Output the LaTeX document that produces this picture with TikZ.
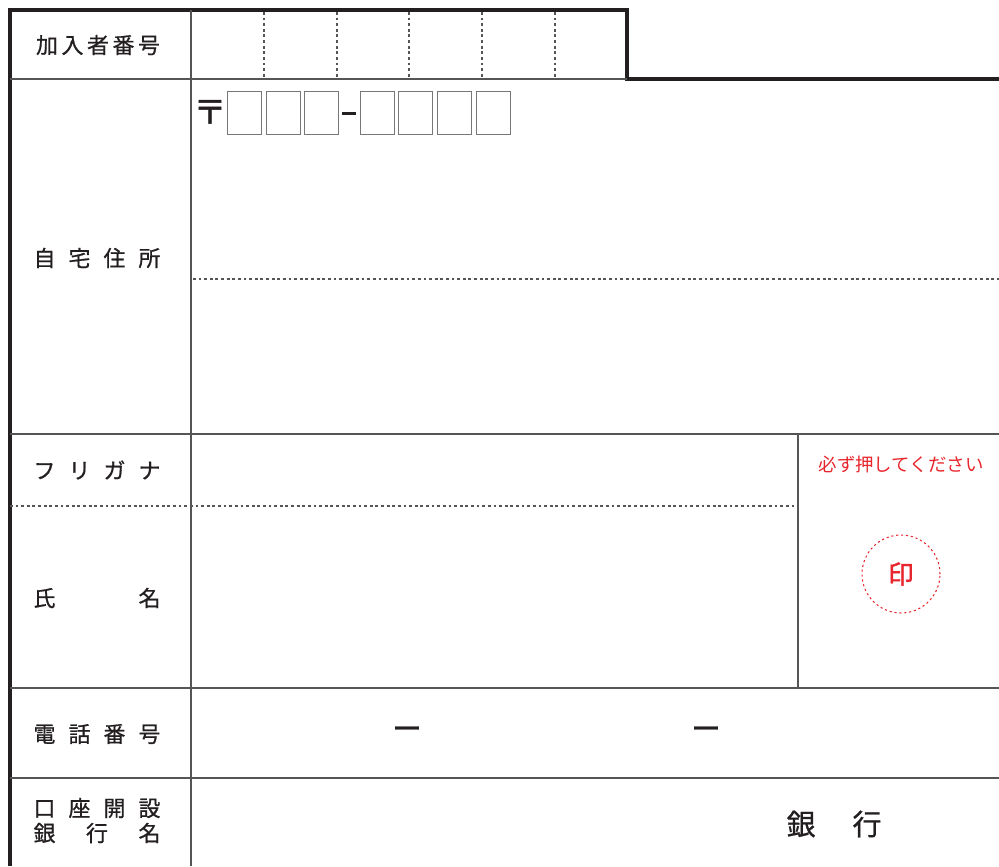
\documentclass[tikz,border=0pt]{standalone}
\usepackage{fontspec}
\setmainfont{Noto Sans CJK JP}
\newfontfamily\mediumjp[FakeBold=0.8]{Noto Sans CJK JP}
\newfontfamily\heavyjp[FakeBold=1.6]{Noto Sans CJK JP}
\usepackage{xcolor}
\usetikzlibrary{positioning}
\definecolor{framegray}{HTML}{231F20}
\definecolor{rulegray}{HTML}{555555}
\definecolor{stampred}{HTML}{E8262D}
\newcommand{\spreadbox}[2]{\makebox[#1][s]{#2}}

\begin{document}
\begin{tikzpicture}[x=0.02cm,y=-0.02cm,inner sep=0pt]
  \tikzstyle{frame}=[line width=1.8pt,draw=framegray]
  \tikzstyle{rule}=[line width=0.6pt,draw=rulegray]
  \tikzstyle{cut}=[rule,dash pattern=on 1.6pt off 1.6pt]
  \tikzstyle{label}=[font=\mediumjp\fontsize{12.5}{12.5}\selectfont,text=framegray]
  \tikzstyle{postbox}=[draw=rulegray!80,line width=0.5pt,minimum width=0.68cm,minimum height=0.86cm]

  \useasboundingbox (0,0) rectangle (999,866);

  % table lines
  \draw[frame] (10,866) -- (10,10) -- (627,10) -- (627,79) -- (999,79);
  \draw[rule] (10,79) -- (627,79);
  \draw[rule] (191,10) -- (191,866);
  \draw[rule] (10,434) -- (999,434);
  \draw[rule] (10,688) -- (999,688);
  \draw[rule] (10,778) -- (999,778);
  \draw[rule] (798,434) -- (798,688);
  \draw[cut] (193,279) -- (999,279);
  \draw[cut] (10,506) -- (798,506);
  \foreach \x in {264,337,409,482,555}
    \draw[cut] (\x,12) -- (\x,79);

  % labels
  \node[label] (kanyu)    at (98,45)  {\spreadbox{2.48cm}{加\hfill 入\hfill 者\hfill 番\hfill 号}};
  \node[label] (jitaku)   at (97,258) {\spreadbox{2.54cm}{自\hfill 宅\hfill 住\hfill 所}};
  \node[label] (furigana) at (97,470) {\spreadbox{2.54cm}{フ\hfill リ\hfill ガ\hfill ナ}};
  \node[label] (shimei)   at (97,598) {\spreadbox{2.54cm}{氏\hfill 名}};
  \node[label] (denwa)    at (97,734) {\spreadbox{2.54cm}{電\hfill 話\hfill 番\hfill 号}};
  \node[label] (koza)     at (97,808) {\spreadbox{2.54cm}{口\hfill 座\hfill 開\hfill 設}};
  \node[label] (ginko)    at (97,833) {\spreadbox{2.54cm}{銀\hfill 行\hfill 名}};

  % postal code
  \node[label,font=\heavyjp\fontsize{19}{19}\selectfont] (yubin) at (210,112) {〒};
  \foreach \x [count=\i] in {244,283,321}
    \node[postbox] (a\i) at (\x,113) {};
  \node[fill=framegray,minimum width=0.28cm,minimum height=0.06cm] (hyphen) at (349,113) {};
  \foreach \x [count=\i] in {377,415,454,493}
    \node[postbox] (b\i) at (\x,113) {};

  % phone and bank
  \node[label,font=\mediumjp\fontsize{17}{17}\selectfont] (dash1) at (407,733) {ー};
  \node[label,font=\mediumjp\fontsize{17}{17}\selectfont] (dash2) at (706,733) {ー};
  \node[label,font=\mediumjp\fontsize{16.5}{16.5}\selectfont] (bank) at (834,824) {\spreadbox{1.9cm}{銀\hfill 行}};

  % seal
  \node[text=stampred,font=\fontsize{10.5}{10.5}\selectfont] (hint) at (901,464) {必ず押してください};
  \node[circle,draw=stampred,line width=0.6pt,dash pattern=on 1.2pt off 1.6pt,minimum size=1.56cm,
        text=stampred,font=\heavyjp\fontsize{14.5}{14.5}\selectfont] (seal) at (901,574) {印};
\end{tikzpicture}
\end{document}
